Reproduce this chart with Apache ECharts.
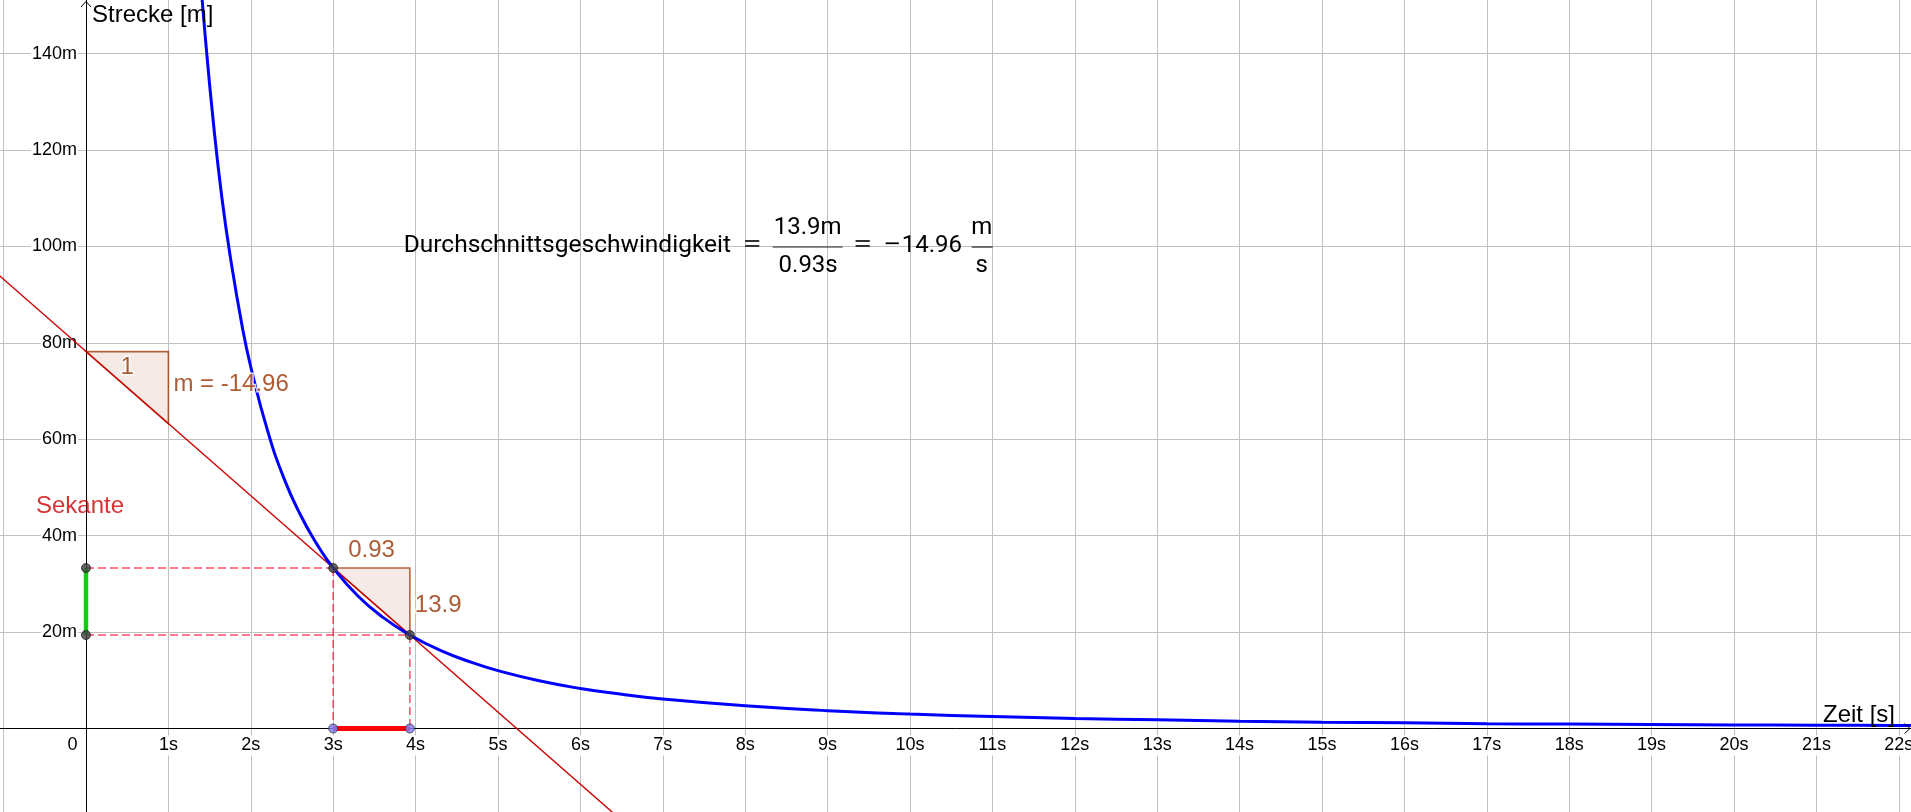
<!DOCTYPE html>
<html>
<head>
<meta charset="utf-8">
<script src="https://cdn.jsdelivr.net/npm/echarts@6/dist/echarts.min.js"></script>
<style>
html,body{margin:0;padding:0;background:#fff;}
#chart{width:1911px;height:812px;}
</style>
</head>
<body>
<div id="chart"></div>
<script>
// ---------------- data ----------------
const curveT = [1.37, 1.45, 1.55, 1.65, 1.75, 1.9, 2.0, 2.2, 2.4, 2.6, 2.8, 3.0, 3.3, 3.6, 3.93, 4.3, 4.7, 5.0, 5.5, 6.0, 6.5, 7.0, 8.0, 9.0, 10.0, 11.0, 12.0, 13.0, 14.0, 15.0, 16.0, 17.0, 18.0, 19.0, 20.0, 21.0, 22.0, 22.5];
const curveS = [160, 143, 125, 110, 98, 83, 75, 62, 52, 44.4, 38.3, 33.3, 27.5, 23.1, 19.4, 16.2, 13.6, 12.0, 9.9, 8.3, 7.1, 6.1, 4.7, 3.7, 3.0, 2.5, 2.1, 1.8, 1.5, 1.3, 1.2, 1.0, 0.93, 0.83, 0.75, 0.68, 0.62, 0.59];

const secantT = [-1.1, 6.45];
const secantS = [94.7, -18.3];

const slopeTriangle = [[0, 78.2], [1, 78.2], [1, 63.24]];
const secantTriangle = [[3, 33.3], [3.93, 33.3], [3.93, 19.4]];

const dashedGuides = [
  [0, 33.3, 3, 33.3],
  [0, 19.4, 3.93, 19.4],
  [3, 33.3, 3, 0],
  [3.93, 19.4, 3.93, 0]
];
const deltaSSegment = [[0, 19.4, 0, 33.3]];
const deltaTSegment = [[3, 0, 3.93, 0]];

const curvePoints = [[0, 33.3], [0, 19.4], [3, 33.3], [3.93, 19.4]];
const axisPoints = [[3, 0], [3.93, 0]];

const xUnit = 's';
const yUnit = 'm';
const xTitle = 'Zeit [s]';
const yTitle = 'Strecke [m]';
const secantName = 'Sekante';
const slopeOne = '1';
const slopeText = 'm = -14.96';
const deltaTText = '0.93';
const deltaSText = '13.9';
const formulaWord = 'Durchschnittsgeschwindigkeit';
const formulaNum = '13.9m';
const formulaDen = '0.93s';
const formulaSign = '\u2212';
const formulaValue = '14.96';
const formulaUnitNum = 'm';
const formulaUnitDen = 's';

// ---------------- layout / styles ----------------
const FONT = '"Liberation Sans", Arial, sans-serif';
const MATHFONT = 'Roboto, "Liberation Sans", sans-serif';
const BROWN = '#993300';
const GRID = '#c0c0c0';
const X_MIN = -2, X_MAX = 23, Y_MIN = -20, Y_MAX = 160;
const GRID_LEFT = -78.8, GRID_TOP = -42.7, GRID_W = 2060, GRID_H = 867.6;
const ORIGIN_PX = [86, 728.5];

const chart = echarts.init(document.getElementById('chart'), null, {renderer: 'canvas'});

function segmentSeries(name, segs, style, z) {
  return {
    name: name,
    type: 'custom',
    coordinateSystem: 'cartesian2d',
    z: z,
    silent: true,
    data: segs,
    renderItem: function (params, api) {
      const p1 = api.coord([api.value(0), api.value(1)]);
      const p2 = api.coord([api.value(2), api.value(3)]);
      return {
        type: 'line',
        shape: {x1: p1[0], y1: p1[1], x2: p2[0], y2: p2[1]},
        style: style
      };
    }
  };
}

const triangles = [slopeTriangle, secantTriangle];

const option = {
  backgroundColor: '#fff',
  animation: false,
  grid: {left: GRID_LEFT, top: GRID_TOP, width: GRID_W, height: GRID_H, containLabel: false, outerBoundsMode: 'none', show: false},
  xAxis: {
    type: 'value', min: X_MIN, max: X_MAX, interval: 1,
    position: 'bottom',
    offset: -(GRID_TOP + GRID_H - ORIGIN_PX[1]),
    axisLine: {show: true, onZero: false, lineStyle: {color: '#000', width: 1}},
    axisTick: {show: false},
    splitLine: {show: true, lineStyle: {color: GRID, width: 1}},
    axisLabel: {
      margin: 7,
      formatter: function (v) {
        if (v === 0) return '{z|0}';
        if (v > 0) return '{a|' + v + xUnit + '}';
        return '';
      },
      rich: {
        a: {fontSize: 18, fontFamily: FONT, color: '#000', backgroundColor: '#fff', padding: [1, 1]},
        z: {fontSize: 18, fontFamily: FONT, color: '#000', padding: [1, 27, 1, 0]}
      }
    }
  },
  yAxis: {
    type: 'value', min: Y_MIN, max: Y_MAX, interval: 20,
    position: 'left',
    offset: -(ORIGIN_PX[0] - GRID_LEFT),
    axisLine: {show: true, onZero: false, lineStyle: {color: '#000', width: 1}},
    axisTick: {show: false},
    splitLine: {show: true, lineStyle: {color: GRID, width: 1}},
    axisLabel: {
      margin: 8,
      formatter: function (v) {
        if (v > 0 && v <= 140) return '{a|' + v + yUnit + '}';
        return '';
      },
      rich: {
        a: {fontSize: 18, fontFamily: FONT, color: '#000', backgroundColor: '#fff', padding: [1, 1]}
      }
    }
  },
  series: [
    {
      name: 'triangles',
      type: 'custom',
      coordinateSystem: 'cartesian2d',
      z: 2,
      silent: true,
      data: triangles.map(function (t, i) { return [t[0][0], t[0][1], i]; }),
      renderItem: function (params, api) {
        const tri = triangles[params.dataIndex];
        return {
          type: 'polygon',
          shape: {points: tri.map(function (p) { return api.coord(p); })},
          style: {fill: 'rgba(153,51,0,0.1)', stroke: 'rgba(153,51,0,0.75)', lineWidth: 1.6}
        };
      }
    },
    segmentSeries('guides', dashedGuides, {stroke: 'rgba(255,0,40,0.7)', lineWidth: 1.5, lineDash: [8, 4]}, 3),
    {
      name: 'Sekante',
      type: 'line',
      z: 4,
      silent: true,
      showSymbol: false,
      data: secantT.map(function (t, i) { return [t, secantS[i]]; }),
      lineStyle: {color: '#cc0000', width: 1.4}
    },
    {
      name: 'Strecke',
      type: 'line',
      z: 5,
      silent: true,
      showSymbol: false,
      smooth: true,
      data: curveT.map(function (t, i) { return [t, curveS[i]]; }),
      lineStyle: {color: '#0000ff', width: 3}
    },
    segmentSeries('deltaS', deltaSSegment, {stroke: '#11cc11', lineWidth: 4.5}, 6),
    segmentSeries('deltaT', deltaTSegment, {stroke: '#ff0000', lineWidth: 5}, 6),
    {
      name: 'points',
      type: 'scatter',
      z: 7,
      silent: true,
      symbolSize: 9,
      data: curvePoints,
      itemStyle: {color: '#404040', borderColor: '#222', borderWidth: 1}
    },
    {
      name: 'axisPoints',
      type: 'scatter',
      z: 7,
      silent: true,
      symbolSize: 9,
      data: axisPoints,
      itemStyle: {color: '#8080ff', borderColor: '#333', borderWidth: 1}
    },
    {
      name: 'labels',
      type: 'scatter',
      z: 8,
      silent: true,
      symbolSize: 0,
      data: [
        {value: [0.5, slopeTriangle[0][1]], label: {formatter: slopeOne, position: 'bottom', distance: 4}},
        {value: [1, (slopeTriangle[1][1] + slopeTriangle[2][1]) / 2], label: {formatter: slopeText, position: 'right', distance: 5, offset: [0, -3]}},
        {value: [(secantTriangle[0][0] + secantTriangle[1][0]) / 2, secantTriangle[0][1]], label: {formatter: deltaTText, position: 'top', distance: 6}},
        {value: [secantTriangle[1][0], (secantTriangle[1][1] + secantTriangle[2][1]) / 2], label: {formatter: deltaSText, position: 'right', distance: 5, offset: [0, 4]}},
        {value: [-0.073, 46], label: {formatter: secantName, position: 'inside', color: '#cc0000', textBorderWidth: 0}}
      ],
      label: {
        show: true, fontSize: 24, fontFamily: FONT, color: BROWN,
        textBorderColor: '#fff', textBorderWidth: 3
      }
    }
  ]
};

chart.setOption(option);

// ---------------- annotations placed from axis positions ----------------
const x0 = chart.convertToPixel({xAxisIndex: 0}, 0);
const y0 = chart.convertToPixel({yAxisIndex: 0}, 0);
const fx = chart.convertToPixel({xAxisIndex: 0}, 3.855);
const fy = chart.convertToPixel({yAxisIndex: 0}, 100);
const W = chart.getWidth();

function txt(x, y, text, opts, extra) {
  return Object.assign({
    type: 'text', x: x, y: y, silent: true, z: 100,
    style: Object.assign({text: text, fill: '#000', font: '24px ' + MATHFONT, align: 'left', verticalAlign: 'middle'}, opts || {})
  }, extra || {});
}
function bar(xa, xb, y) {
  return {type: 'line', silent: true, z: 100, shape: {x1: xa, y1: y, x2: xb, y2: y}, style: {stroke: '#222', lineWidth: 1.2}};
}

const graphics = [
  {type: 'polyline', silent: true, z: 100, shape: {points: [[x0 - 5, 7], [x0, 1.5], [x0 + 5, 7]]}, style: {stroke: '#000', lineWidth: 1, fill: null}},
  {type: 'polyline', silent: true, z: 100, shape: {points: [[W - 6.5, y0 - 5], [W - 1, y0], [W - 6.5, y0 + 5]]}, style: {stroke: '#000', lineWidth: 1, fill: null}},
  txt(x0 + 6, 15, yTitle, {font: '24px ' + FONT}),
  txt(W - 16, y0 - 13, xTitle, {font: '24px ' + FONT, align: 'right'}),
  // formula
  txt(fx, fy - 0.5, formulaWord, {font: '24.5px ' + MATHFONT}),
  txt(fx + 348.5, fy - 1, '=', {align: 'center', fill: '#333'}, {scaleX: 1.45}),
  bar(fx + 369, fx + 439, fy + 0.5),
  txt(fx + 404, fy - 18.2, formulaNum, {align: 'center'}),
  txt(fx + 404.5, fy + 19.8, formulaDen, {align: 'center'}),
  txt(fx + 459, fy - 1, '=', {align: 'center', fill: '#333'}, {scaleX: 1.45}),
  txt(fx + 488.5, fy - 0.5, formulaSign, {align: 'center'}, {scaleX: 1.35}),
  txt(fx + 498, fy - 0.5, formulaValue),
  bar(fx + 568, fx + 589, fy + 0.5),
  txt(fx + 578, fy - 18.2, formulaUnitNum, {align: 'center'}),
  txt(fx + 578, fy + 19.8, formulaUnitDen, {align: 'center'})
];

chart.setOption({graphic: graphics});
</script>
</body>
</html>
